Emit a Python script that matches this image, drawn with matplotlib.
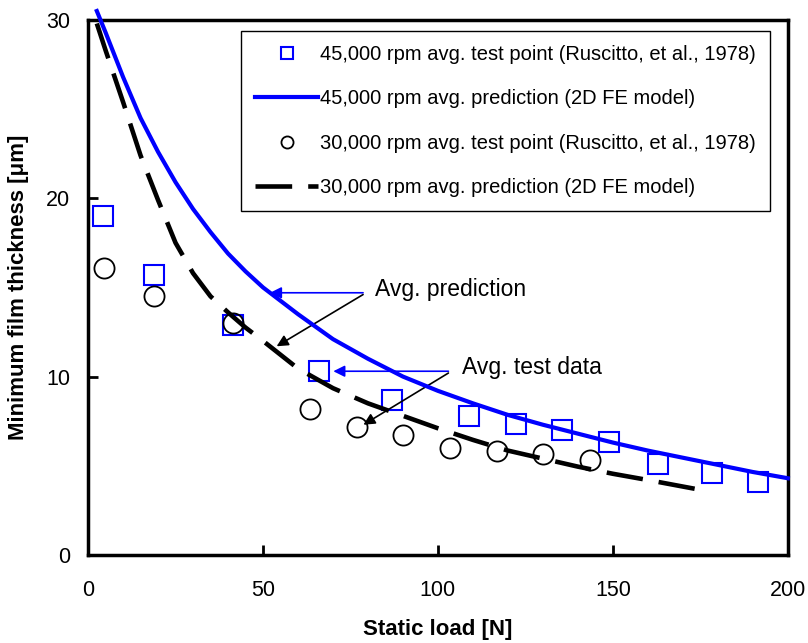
import matplotlib.pyplot as plt

plt.rcParams['font.family'] = ['Liberation Sans', 'DejaVu Sans']

# 45,000 rpm avg. test points
sq_load = [4.4, 18.9, 41.5, 66.1, 86.8, 108.8, 122.2, 135.5, 148.9, 163.0, 178.3, 191.5]
sq_film = [19.0, 15.7, 12.9, 10.3, 8.7, 7.8, 7.35, 7.0, 6.35, 5.1, 4.6, 4.1]

# 30,000 rpm avg. test points
ci_load = [4.6, 18.9, 41.5, 63.4, 76.9, 90.1, 103.4, 116.8, 130.1, 143.4]
ci_film = [16.1, 14.5, 13.0, 8.2, 7.2, 6.75, 6.0, 5.85, 5.65, 5.35]

# 45,000 rpm prediction (2D FE)
p45_load = [2.5, 5, 10, 15, 20, 25, 30, 35, 40, 45, 50, 60, 70, 80, 90, 100, 110, 120,
            130, 140, 150, 160, 170, 180, 190, 200]
p45_film = [30.5, 29.3, 26.8, 24.5, 22.6, 20.9, 19.4, 18.1, 16.9, 15.9, 15.0, 13.5, 12.1,
            11.0, 10.0, 9.2, 8.5, 7.85, 7.3, 6.8, 6.3, 5.85, 5.45, 5.05, 4.65, 4.3]

# 30,000 rpm prediction (2D FE)
p30_load = [2.5, 5, 10, 15, 20, 25, 30, 35, 40, 45, 50, 60, 70, 80, 90, 100, 110, 120,
            130, 140, 150, 160, 175]
p30_film = [29.8, 28.3, 25.4, 22.4, 19.9, 17.5, 15.8, 14.5, 13.6, 12.75, 12.0, 10.45, 9.35,
            8.5, 7.8, 7.1, 6.45, 5.85, 5.4, 4.95, 4.55, 4.2, 3.65]

labels = ['45,000 rpm avg. test point (Ruscitto, et al., 1978)',
          '45,000 rpm avg. prediction (2D FE model)',
          '30,000 rpm avg. test point (Ruscitto, et al., 1978)',
          '30,000 rpm avg. prediction (2D FE model)']

blue = '#0000ff'

fig = plt.figure(figsize=(8.08, 6.43), dpi=100)
ax = fig.add_axes([0.109, 0.137, 0.866, 0.832])

ax.plot(sq_load, sq_film, 's', ms=14, mfc='none', mec=blue, mew=1.5, label=labels[0], zorder=3)
ax.plot(p45_load, p45_film, '-', color=blue, lw=3, label=labels[1], zorder=4, clip_on=False)
ax.plot(ci_load, ci_film, 'o', ms=14.5, mfc='none', mec='black', mew=1.3, label=labels[2], zorder=5)
ax.plot(p30_load, p30_film, '-', color='black', lw=3.3, dashes=(8, 3.5), label=labels[3], zorder=6)

ax.set_xlim(0, 200)
ax.set_ylim(0, 30)
ax.set_xticks([0, 50, 100, 150, 200])
ax.set_yticks([0, 10, 20, 30])
ax.tick_params(direction='in', length=7, width=2, labelsize=15.5)
ax.tick_params(axis='x', pad=18)
ax.tick_params(axis='y', pad=13)
for s in ax.spines.values():
    s.set_linewidth(2.5)

ax.set_xlabel('Static load [N]', fontsize=16, fontweight='bold', labelpad=13)
ax.set_ylabel('Minimum film thickness [\u03bcm]', fontsize=16, fontweight='bold', labelpad=12)

leg = ax.legend(loc='upper right', bbox_to_anchor=(0.974, 0.979), fontsize=14.5,
                frameon=True, fancybox=False, edgecolor='black', framealpha=1,
                markerscale=0.6, handlelength=3.1, handletextpad=0.1,
                labelspacing=1.25, borderpad=0.7, borderaxespad=0)
leg.get_frame().set_linewidth(1.0)

# annotations
arr = dict(arrowstyle='-|>', lw=1.2, mutation_scale=17, shrinkA=0, shrinkB=0)
ax.text(82, 14.9, 'Avg. prediction', fontsize=16.5, va='center', ha='left')
ax.annotate('', xy=(52, 14.7), xytext=(78.6, 14.7), arrowprops=dict(arr, color=blue))
ax.annotate('', xy=(53.9, 11.7), xytext=(78.6, 14.6), arrowprops=dict(arr, color='black'))
ax.text(107, 10.5, 'Avg. test data', fontsize=16.5, va='center', ha='left')
ax.annotate('', xy=(70.1, 10.3), xytext=(103, 10.3), arrowprops=dict(arr, color=blue))
ax.annotate('', xy=(78.7, 7.3), xytext=(103, 10.2), arrowprops=dict(arr, color='black'))

fig.savefig('out.png', dpi=100)
